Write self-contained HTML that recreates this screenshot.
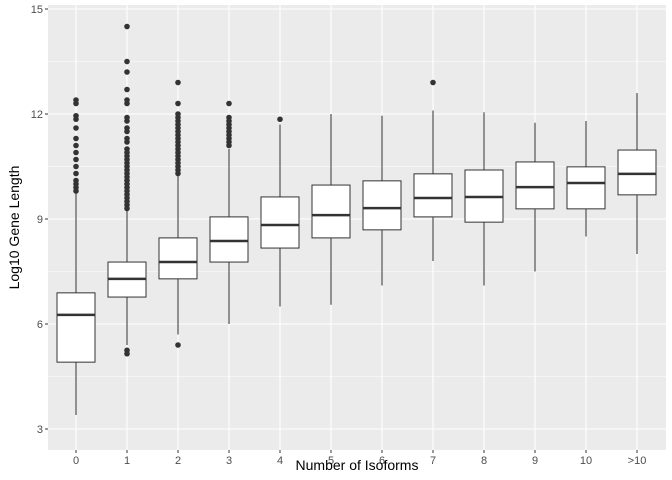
<!DOCTYPE html>
<html><head><meta charset="utf-8"><style>
body{margin:0;background:#fff}
svg{display:block;font-family:"Liberation Sans",sans-serif}
</style></head><body>
<svg id="c" width="672" height="480"></svg>
<script>
const categories=["0","1","2","3","4","5","6","7","8","9","10",">10"];
const lowerWhisker=[3.4,5.4,5.7,6.0,6.5,6.55,7.1,7.8,7.1,7.5,8.5,8.0];
const q1=[4.91,6.77,7.29,7.77,8.17,8.46,8.69,9.06,8.91,9.29,9.29,9.69];
const medians=[6.26,7.29,7.77,8.37,8.83,9.11,9.31,9.6,9.63,9.91,10.03,10.29];
const q3=[6.89,7.77,8.46,9.06,9.63,9.97,10.09,10.29,10.4,10.63,10.49,10.97];
const upperWhisker=[9.75,9.25,10.25,11.0,11.7,12.0,11.95,12.1,12.05,11.75,11.8,12.6];
const outliers=[
 [12.4,12.3,11.95,11.85,11.6,11.3,11.1,10.9,10.7,10.5,10.3,10.1,10.0,9.9,9.8],
 [14.5,13.5,13.2,12.7,12.4,12.3,11.9,11.8,11.6,11.5,11.3,11.2,11.0,10.9,10.8,10.7,10.6,10.5,10.4,10.3,10.2,10.1,10.0,9.9,9.8,9.7,9.6,9.5,9.4,9.3,5.25,5.15],
 [12.9,12.3,12.0,11.9,11.8,11.7,11.6,11.5,11.4,11.3,11.2,11.1,11.0,10.9,10.8,10.7,10.6,10.5,10.4,10.3,5.4],
 [12.3,11.9,11.8,11.7,11.6,11.5,11.4,11.3,11.2,11.1],
 [11.85],[],[],[12.9],[],[],[],[]
];
const yTicks=[3,6,9,12,15];
const yMinor=[4.5,7.5,10.5,13.5];
const L=48,R=666,T=5,B=450;
const y=v=>429-(v-3)*35;
const x=i=>76+i*51;
const svg=document.getElementById('c');
const NS='http://www.w3.org/2000/svg';
function add(tag,attrs,name,parent){const e=document.createElementNS(NS,tag);for(const k in attrs)e.setAttribute(k,attrs[k]);


(parent||svg).appendChild(e);return e;}
add('rect',{x:L,y:T,width:R-L,height:B-T,fill:'#EBEBEB'},'plot-panel');
yMinor.forEach(v=>add('line',{x1:L,x2:R,y1:y(v),y2:y(v),stroke:'#fff','stroke-width':0.55},'minor-gridline'));
yTicks.forEach(v=>add('line',{x1:L,x2:R,y1:y(v),y2:y(v),stroke:'#fff','stroke-width':1.1},'major-gridline'));
categories.forEach((c,i)=>add('line',{x1:x(i),x2:x(i),y1:T,y2:B,stroke:'#fff','stroke-width':1.1},'vertical-gridline'));
const hw=19;
categories.forEach((c,i)=>{
 const g=add('g',{},'box-'+c);
 add('line',{x1:x(i),x2:x(i),y1:y(lowerWhisker[i]),y2:y(q1[i]),stroke:'#333','stroke-width':1},'lower-whisker',g);
 add('line',{x1:x(i),x2:x(i),y1:y(q3[i]),y2:y(upperWhisker[i]),stroke:'#333','stroke-width':1},'upper-whisker',g);
 add('rect',{x:x(i)-hw,y:y(q3[i]),width:2*hw,height:y(q1[i])-y(q3[i]),fill:'#fff',stroke:'#333','stroke-width':1},'box',g);
 add('line',{x1:x(i)-hw,x2:x(i)+hw,y1:y(medians[i]),y2:y(medians[i]),stroke:'#333','stroke-width':2.5},'median',g);
 outliers[i].forEach(v=>add('circle',{cx:x(i),cy:y(v),r:2.8,fill:'#333'},'outlier',g));
 add('line',{x1:x(i),x2:x(i),y1:B,y2:B+3,stroke:'#333','stroke-width':1},'x-tick',g);
 const t=add('text',{x:x(i),y:B+14,'text-anchor':'middle','font-size':11,fill:'#4D4D4D'},'x-tick-label');t.textContent=c;
});
yTicks.forEach(v=>{add('line',{x1:L-3,x2:L,y1:y(v),y2:y(v),stroke:'#333'},'y-tick');
 const t=add('text',{x:L-5,y:y(v)+4,'text-anchor':'end','font-size':11,fill:'#4D4D4D'},'y-tick-label');t.textContent=v;});
let t=add('text',{x:(L+R)/2,y:470,'text-anchor':'middle','font-size':14,fill:'#000'},'x-axis-title');t.textContent='Number of Isoforms';
t=add('text',{x:0,y:0,'text-anchor':'middle','font-size':14,fill:'#000',transform:`translate(19,${(T+B)/2}) rotate(-90)`},'y-axis-title');t.textContent='Log10 Gene Length';
</script>
</body></html>
